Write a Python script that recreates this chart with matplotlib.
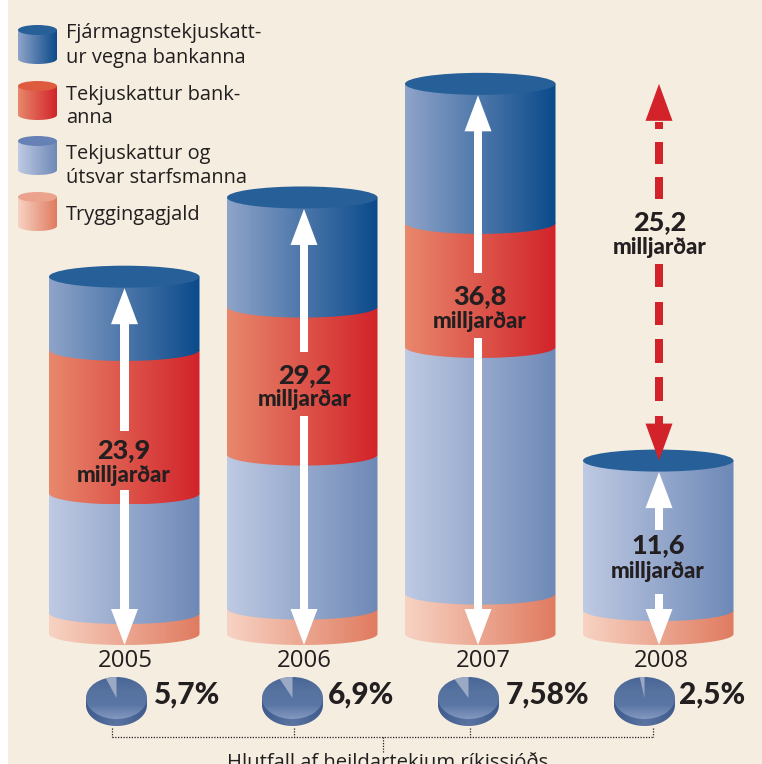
import numpy as np
import matplotlib
matplotlib.use('Agg')
import matplotlib.pyplot as plt
from matplotlib.colors import LinearSegmentedColormap
from matplotlib.patches import Ellipse, Polygon, Rectangle, PathPatch
from matplotlib.path import Path

# values in billions
years = ['2005', '2006', '2007', '2008']
tryggingagjald = [1.4, 1.7, 2.7, 1.6]
tekjuskattur_starfsmanna = [8.0, 10.3, 16.5, 10.0]
tekjuskattur_banka = [9.6, 9.9, 8.3, 0.0]
fjarmagnstekjuskattur = [4.9, 7.3, 9.3, 0.0]
totals = ['23,9', '29,2', '36,8', '11,6']
gap_label = '25,2'
pie_shares = [5.7, 6.9, 7.58, 2.5]
pie_labels = ['5,7%', '6,9%', '7,58%', '2,5%']
legend_labels = [['Fjármagnstekjuskatt-', 'ur vegna bankanna'],
                 ['Tekjuskattur bank-', 'anna'],
                 ['Tekjuskattur og', 'útsvar starfsmanna'],
                 ['Tryggingagjald']]

PX = 14.95       # pixels per billion
BASE = 634       # pixel row of the zero line
FONT = 'Open Sans'
BOLD = 'Lato'
CREAM = '#F4EDE0'
DARK = '#231F20'
RED = '#D2232A'

# left/right colours of each band, and its top ellipse
BLUE_G = ('#8FA4C9', '#0A4A8B')
RED_G = ('#E8886C', '#D2232A')
LIGHT_G = ('#BFCAE3', '#6E89B7')
SALMON_G = ('#F7D3C3', '#E07B60')
BLUE_TOP, RED_TOP, LIGHT_TOP, SALMON_TOP = '#275F99', '#DE5B40', '#6681B5', '#EBA38D'


def py(p):
    # pixel row to data value
    return (BASE - p) / PX


fig = plt.figure(figsize=(7.62, 7.64), dpi=100, facecolor='white')
ax = fig.add_axes([0, 0, 1, 1])
ax.axis('off')
ax.add_patch(Rectangle((8, py(764)), 760, py(0) - py(764), fc=CREAM, ec='none', zorder=0))


def band(x0, w, low, high, ry, colors, z):
    # one cylinder section: straight top edge, rounded bottom edge
    t = np.linspace(np.pi, 2 * np.pi, 40)
    xs = x0 + w / 2 + w / 2 * np.cos(t)
    ys = low + ry * np.sin(t)
    verts = [(x0, high)] + list(zip(xs, ys)) + [(x0 + w, high), (x0, high)]
    patch = PathPatch(Path(verts), fc='none', ec='none', zorder=z)
    ax.add_patch(patch)
    cmap = LinearSegmentedColormap.from_list('g', colors)
    im = ax.imshow(np.linspace(0, 1, 256).reshape(1, -1), cmap=cmap, aspect='auto',
                   extent=(x0, x0 + w, low - ry, high), zorder=z)
    im.set_clip_path(patch)


def cylinder(x0, w, ry, values, gradients, top_color, start=0.0, z=1):
    low = start
    for v, g in zip(values, gradients):
        if v > 0:
            band(x0, w, low, low + v, ry, g, z)
            low += v
            z += 1
    ax.add_patch(Ellipse((x0 + w / 2, low), w, 2 * ry, fc=top_color, ec='none', zorder=z))


def white_arrow(x, high, shaft_top, shaft_bottom, low):
    # head up from the top of the stack, head down to the base
    head_h, head_w, sw = 36 / PX, 27, 8.5
    ax.add_patch(Polygon([(x, high), (x - head_w / 2, high - head_h), (x + head_w / 2, high - head_h)],
                         fc='white', ec='none', zorder=20))
    ax.add_patch(Rectangle((x - sw / 2, shaft_top), sw, high - head_h - shaft_top, fc='white', ec='none', zorder=20))
    ax.add_patch(Polygon([(x, low), (x - head_w / 2, low + head_h), (x + head_w / 2, low + head_h)],
                         fc='white', ec='none', zorder=20))
    ax.add_patch(Rectangle((x - sw / 2, low + head_h), sw, shaft_bottom - low - head_h, fc='white', ec='none', zorder=20))


def big_label(x, y_num, y_word, number):
    ax.text(x, py(y_num), number, ha='center', va='center', fontsize=19.5, fontweight='black',
            family=BOLD, color=DARK, zorder=30)
    ax.text(x, py(y_word), 'milljarðar', ha='center', va='center', fontsize=16, fontweight='black',
            family=BOLD, color=DARK, zorder=30)


# main cylinders
bar_left = [49, 227, 405, 583]
bar_width = 150.5
gradients = [SALMON_G, LIGHT_G, RED_G, BLUE_G]
for i in range(4):
    vals = [tryggingagjald[i], tekjuskattur_starfsmanna[i], tekjuskattur_banka[i], fjarmagnstekjuskattur[i]]
    cylinder(bar_left[i], bar_width, 11 / PX, vals, gradients, BLUE_TOP)

# white double arrows
arrow_x = [124.5, 304, 478, 659]
shaft_tops = [431, 352, 273, 530]
shaft_bottoms = [490, 416, 338, 594]
num_y = [450, 375, 296, 545]
word_y = [475, 400, 322, 571]
label_x = [124, 305, 480, 658]
for i in range(4):
    total = tryggingagjald[i] + tekjuskattur_starfsmanna[i] + tekjuskattur_banka[i] + fjarmagnstekjuskattur[i]
    white_arrow(arrow_x[i], total - 11.5 / PX, py(shaft_tops[i]), py(shaft_bottoms[i]), -11 / PX)
    big_label(label_x[i], num_y[i], word_y[i], totals[i])

# red dashed arrow from 2008 up to the 2007 level
rx = 659
top_val = sum(v[2] for v in (tryggingagjald, tekjuskattur_starfsmanna, tekjuskattur_banka, fjarmagnstekjuskattur))
low_val = tryggingagjald[3] + tekjuskattur_starfsmanna[3]
head = 37 / PX
ax.add_patch(Polygon([(rx, top_val), (rx - 13.5, top_val - head), (rx + 13.5, top_val - head)], fc=RED, ec='none', zorder=25))
ax.add_patch(Polygon([(rx, low_val), (rx - 13.5, low_val + head), (rx + 13.5, low_val + head)], fc=RED, ec='none', zorder=25))
dash_rows = [(122, 129), (142, 164), (177, 199), (264, 287), (302, 325), (339, 363), (377, 401), (416, 424)]
for a, b in dash_rows:
    ax.add_patch(Rectangle((rx - 4, py(b)), 8, py(a) - py(b), fc=RED, ec='none', zorder=25))
big_label(660, 222, 247, gap_label)

# legend
legend_tops = [30, 86, 141, 197]
legend_grad = [BLUE_G, RED_G, LIGHT_G, SALMON_G]
legend_top_col = [BLUE_TOP, RED_TOP, LIGHT_TOP, SALMON_TOP]
legend_rows = [[33, 58], [95, 118], [154, 178], [215]]
for i in range(4):
    h = 29 / PX
    cylinder(18, 39, 5 / PX, [h], [legend_grad[i]], legend_top_col[i], start=py(legend_tops[i]) - h)
    for line, row in zip(legend_labels[i], legend_rows[i]):
        ax.text(66, py(row), line, ha='left', va='center', fontsize=14.4, family=FONT, color=DARK, zorder=30)

# year labels
year_x = [125, 304, 483, 661]
for x, y in zip(year_x, years):
    ax.text(x, py(661), y, ha='center', va='center', fontsize=17.3, family=FONT, color=DARK, zorder=30)

# small pies
pie_x = [116.5, 292.5, 468.5, 644.5]
pie_text_x = [154, 328, 506, 679]
pie_rx, pie_ry = 30.5, 21 / PX
pie_cy = py(698)
pie_depth = 7 / PX
pie_grad = LinearSegmentedColormap.from_list('p', ['#4A6697', '#56729F', '#5A76A4', '#8298C0'])
rim_grad = LinearSegmentedColormap.from_list('r', ['#3F5B8C', '#5A74A2', '#3F5B8C'])
for i in range(4):
    cx = pie_x[i]
    # rim
    t = np.linspace(np.pi, 2 * np.pi, 50)
    verts = [(cx - pie_rx, pie_cy)] + list(zip(cx + pie_rx * np.cos(t), pie_cy - pie_depth + pie_ry * np.sin(t))) + [(cx + pie_rx, pie_cy), (cx - pie_rx, pie_cy)]
    rim = PathPatch(Path(verts), fc='none', ec='none', zorder=5)
    ax.add_patch(rim)
    im = ax.imshow(np.linspace(0, 1, 64).reshape(1, -1), cmap=rim_grad, aspect='auto',
                   extent=(cx - pie_rx, cx + pie_rx, pie_cy - pie_depth - pie_ry, pie_cy), zorder=5)
    im.set_clip_path(rim)
    # top face
    face = Ellipse((cx, pie_cy), 2 * pie_rx, 2 * pie_ry, fc='none', ec='none', zorder=6)
    ax.add_patch(face)
    im = ax.imshow(np.linspace(0, 1, 64).reshape(-1, 1), cmap=pie_grad, aspect='auto',
                   extent=(cx - pie_rx, cx + pie_rx, pie_cy - pie_ry, pie_cy + pie_ry), zorder=6)
    im.set_clip_path(face)
    # lighter wedge, counter-clockwise from 12 o'clock
    a = np.linspace(np.pi / 2, np.pi / 2 + 2 * np.pi * pie_shares[i] / 100, 20)
    wedge = [(cx, pie_cy)] + list(zip(cx + pie_rx * np.cos(a), pie_cy + pie_ry * np.sin(a)))
    ax.add_patch(Polygon(wedge, fc='#9BA9C5', ec='none', zorder=7))
    ax.text(pie_text_x[i], py(695), pie_labels[i], ha='left', va='center', fontsize=21.5, fontweight='black',
            family=BOLD, color=DARK, zorder=30)

# dotted bracket
dot = dict(color=DARK, lw=0.9, ls=(0, (1, 1.2)), zorder=4)
ax.plot([112, 653], [py(737), py(737)], **dot)
for x in [112, 294, 470, 653]:
    ax.plot([x, x], [py(728), py(737)], **dot)
ax.plot([383, 383], [py(737), py(752)], **dot)
ax.text(388, py(768), 'Hlutfall af heildartekjum ríkissjóðs', ha='center', va='baseline', fontsize=14.6,
        family=FONT, color=DARK, zorder=30)

ax.set_xlim(0, 762)
ax.set_ylim(py(764), py(0))
fig.savefig('out.png', dpi=100)
